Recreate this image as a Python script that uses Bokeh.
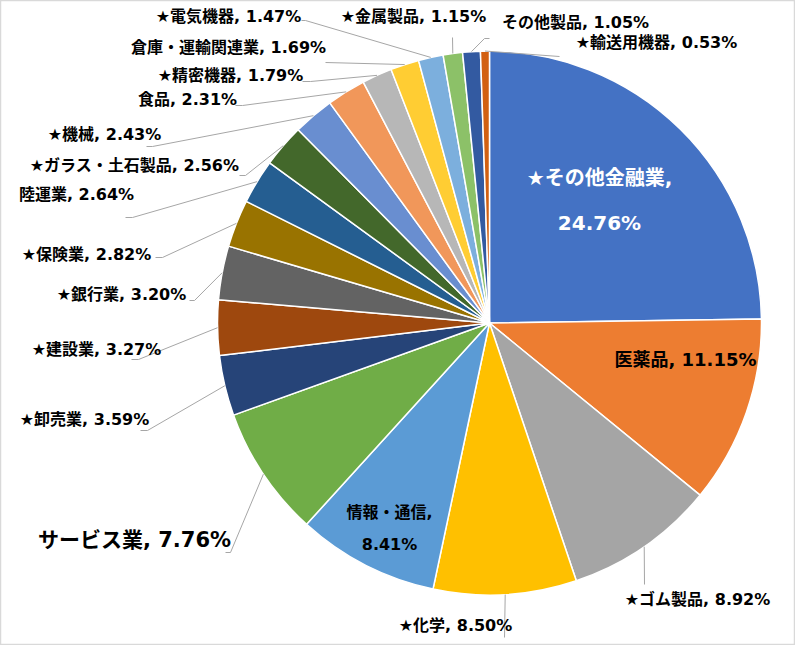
import numpy as np
from bokeh.plotting import figure
from bokeh.models import ColumnDataSource, Range1d
from bokeh.core.properties import value
from bokeh.embed import file_html
from bokeh.resources import INLINE

# Industry shares, clockwise from 12 o'clock
industries = ["★その他金融業", "医薬品", "★ゴム製品", "★化学", "情報・通信", "サービス業",
              "★卸売業", "★建設業", "★銀行業", "★保険業", "陸運業", "★ガラス・土石製品",
              "★機械", "食品", "★精密機器", "倉庫・運輸関連業", "★電気機器", "★金属製品",
              "その他製品", "★輸送用機器"]
shares = [24.76, 11.15, 8.92, 8.50, 8.41, 7.76, 3.59, 3.27, 3.20, 2.82, 2.64, 2.56,
          2.43, 2.31, 1.79, 1.69, 1.47, 1.15, 1.05, 0.53]

palette = ["#4472C4", "#ED7D31", "#A5A5A5", "#FFC000", "#5B9BD5", "#70AD47",
           "#264478", "#9E480E", "#636363", "#997300", "#255E91", "#43682B",
           "#698ED0", "#F1975A", "#B7B7B7", "#FFCD33", "#7CAFDD", "#8CC168",
           "#335AA1", "#D26012"]

FONT = value("DejaVu Sans, Noto Sans CJK JP")
W, H = 795, 645
PAGE_H = 661

# layout in page pixels (y down); converted below
CX, CY, R = 497, 330.5, 272

# outer labels: index -> (text center x, text center y, leader end x, end y, elbow dx)
outer = {
    2: (705, 607, 652, 592, 0),
    3: (463, 633, 512, 645, 0),
    5: (142, 547, 233, 560, 5),
    6: (92, 427, 148, 438, 7),
    7: (104, 357, 139, 367, 7),
    8: (129, 302, 197, 308, 5),
    9: (94, 262, 163, 265, 7),
    10: (84, 202, 133, 225, 7),
    11: (142, 173, 247, 183, 6),
    12: (112, 142, 154, 154, 6),
    13: (195, 107, 243, 113, 7),
    14: (238, 83, 310, 89, 8),
    15: (236, 55, 333, 70, 0),
    16: (236, 24, 309, 28, 4),
    17: (421, 24, 460, 45, 0),
    18: (583, 30, 497, 46, -5),
    19: (664, 50, 567, 64, 0),
}
big_outer = {5}


def py(v):
    return PAGE_H - v


vals = np.array(shares) / 100.0
cum = np.concatenate([[0], np.cumsum(vals)])
start = np.pi / 2 - 2 * np.pi * cum[:-1]
end = np.pi / 2 - 2 * np.pi * cum[1:]
mid = (start + end) / 2

p = figure(width=W, height=H, output_backend="svg", toolbar_location=None,
           x_range=Range1d(8, 8 + W), y_range=Range1d(PAGE_H - 8 - H, PAGE_H - 8),
           x_axis_location=None, y_axis_location=None, min_border=0)
p.grid.visible = False
p.outline_line_color = "#D9D9D9"
p.outline_line_width = 1.5
p.background_fill_color = "white"

src = ColumnDataSource(dict(start=start, end=end, color=palette[:len(shares)]))
p.wedge(x=CX, y=py(CY), radius=R, start_angle="start", end_angle="end",
        direction="clock", fill_color="color", line_color="white", line_width=1.5,
        source=src)

# leader lines
xs, ys = [], []
for i, (tx, ty, ex, ey, dx) in outer.items():
    sx = CX + R * np.cos(mid[i])
    sy = py(CY) + R * np.sin(mid[i])
    xs.append([sx, ex + dx, ex])
    ys.append([sy, py(ey), py(ey)])
p.multi_line(xs, ys, line_color="#A6A6A6", line_width=1)

labels = ["%s, %.2f%%" % (n, s) for n, s in zip(industries, shares)]

# small outer labels
small = [i for i in outer if i not in big_outer]
p.text(x=[outer[i][0] for i in small], y=[py(outer[i][1]) for i in small],
       text=[labels[i] for i in small], text_font=FONT, text_font_style="bold",
       text_font_size="16px", text_color="black",
       text_align="center", text_baseline="middle")

for i in big_outer:
    p.text(x=[outer[i][0]], y=[py(outer[i][1])], text=[labels[i]], text_font=FONT,
           text_font_style="bold", text_font_size="21px", text_color="black",
           text_align="center", text_baseline="middle")

# labels inside slices
p.text(x=[607, 607], y=[py(185), py(230)],
       text=[industries[0] + ",", "%.2f%%" % shares[0]], text_font=FONT,
       text_font_style="bold", text_font_size="20px", text_color="white",
       text_align="center", text_baseline="middle")
p.text(x=[693], y=[py(367)], text=[labels[1]], text_font=FONT,
       text_font_style="bold", text_font_size="18px", text_color="black",
       text_align="center", text_baseline="middle")
p.text(x=[397, 397], y=[py(520), py(552)],
       text=[industries[4] + ",", "%.2f%%" % shares[4]], text_font=FONT,
       text_font_style="bold", text_font_size="16px", text_color="black",
       text_align="center", text_baseline="middle")

open("out.html", "w").write(file_html(p, INLINE))
